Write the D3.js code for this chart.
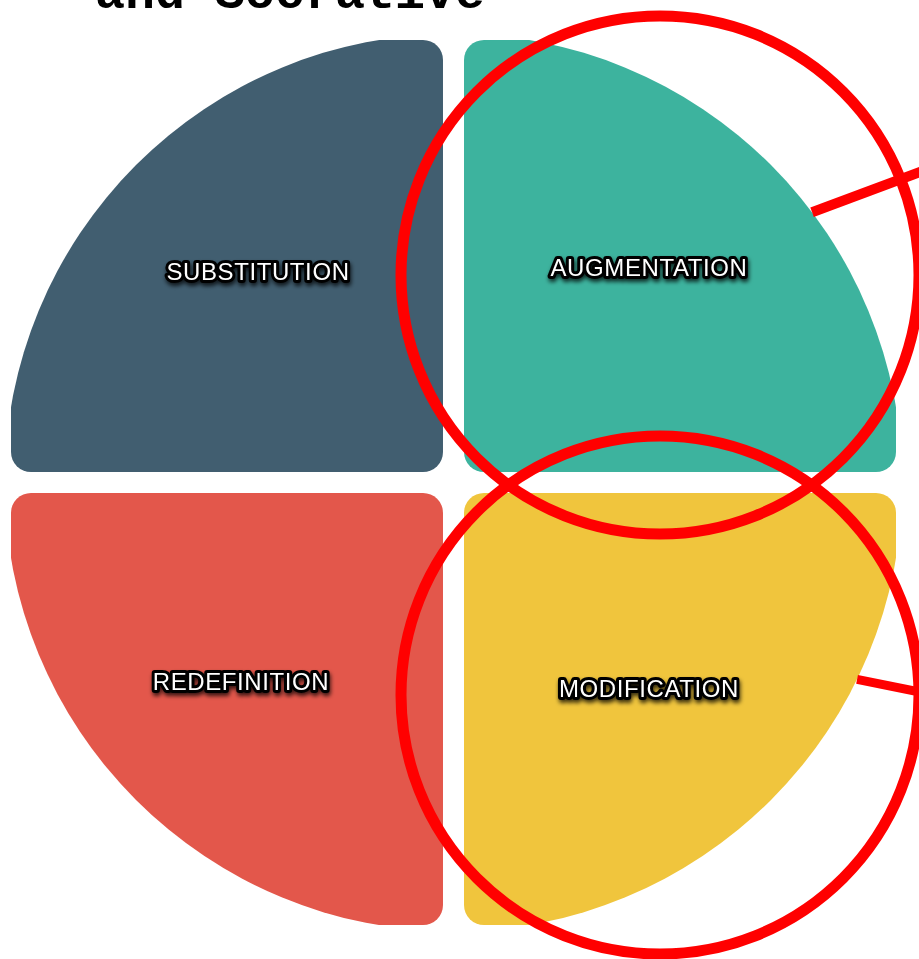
<!DOCTYPE html>
<html>
<head>
<meta charset="utf-8">
<script src="https://cdn.jsdelivr.net/npm/d3@7"></script>
<style>
  html, body { margin: 0; padding: 0; background: #fff; overflow: hidden; }
</style>
</head>
<body>
<script>
// chart size
var w = 919, h = 959;

// the four quadrants of the model
var categories = ["SUBSTITUTION", "AUGMENTATION", "REDEFINITION", "MODIFICATION"];
var columns = ["left", "right", "left", "right"];
var rows = ["top", "top", "bottom", "bottom"];
var colors = ["#415E70", "#3DB39E", "#E3574B", "#F0C53D"];

// red highlight circles and the pointer strokes leading off to the right
var highlighted = ["AUGMENTATION", "MODIFICATION"];
var pointerStartAngles = [-37, 26];   // degrees, where the stroke leaves the big arc
var pointerDirections = [-20.5, 11.5]; // degrees, direction of the stroke

var titleText = "and Socrative";

// small nudges of each label away from its square's centre (layout only)
var labelNudgeX = [31, -31, 14, -31];
var labelNudgeY = [16, 12, -28, -21];

var svg = d3.select("body").append("svg")
    .attr("width", w)
    .attr("height", h);

// 2x2 grid of rounded squares
var x = d3.scaleBand().domain(["left", "right"]).range([11, 896]).paddingInner(0.0464);
var y = d3.scaleBand().domain(["top", "bottom"]).range([40, 925]).paddingInner(0.0464);
var bw = x.bandwidth();

// centre of the gap between quadrants, and the circle cutting the outer corners
var cx = (x("left") + bw + x("right")) / 2;
var cy = (y("top") + bw + y("bottom")) / 2;
var R = 449;

var defs = svg.append("defs");
defs.append("clipPath").attr("id", "circleClip")
  .append("circle").attr("cx", cx).attr("cy", cy).attr("r", R);

var shadow = defs.append("filter").attr("id", "labelShadow")
    .attr("x", "-20%").attr("y", "-50%").attr("width", "140%").attr("height", "200%");
shadow.append("feDropShadow")
    .attr("dx", 1).attr("dy", 3).attr("stdDeviation", 2)
    .attr("flood-color", "#000").attr("flood-opacity", 0.75);

// cut-off heading at the top
svg.append("text")
    .attr("x", 95)
    .attr("y", 8)
    .style("font-family", "'Liberation Mono', 'DejaVu Sans Mono', monospace")
    .style("font-weight", "bold")
    .style("font-size", "50px")
    .style("fill", "#000")
    .text(titleText);

var quads = svg.append("g").attr("clip-path", "url(#circleClip)");

quads.selectAll("rect")
  .data(categories)
  .join("rect")
    .attr("x", function(d, i){ return x(columns[i]); })
    .attr("y", function(d, i){ return y(rows[i]); })
    .attr("width", bw)
    .attr("height", bw)
    .attr("rx", 20)
    .style("fill", function(d, i){ return colors[i]; });

function labelX(i){ return x(columns[i]) + bw / 2 + labelNudgeX[i]; }
function labelY(i){ return y(rows[i]) + bw / 2 + labelNudgeY[i]; }

svg.selectAll("text.label")
  .data(categories)
  .join("text")
    .attr("class", "label")
    .attr("x", function(d, i){ return labelX(i); })
    .attr("y", function(d, i){ return labelY(i); })
    .attr("text-anchor", "middle")
    .attr("dominant-baseline", "central")
    .attr("filter", "url(#labelShadow)")
    .style("font-family", "'Liberation Sans', Arial, sans-serif")
    .style("font-size", "24px")
    .style("letter-spacing", "0.6px")
    .style("fill", "#fff")
    .style("stroke", "#000")
    .style("stroke-width", 6)
    .style("stroke-linejoin", "round")
    .style("paint-order", "stroke")
    .text(function(d){ return d; });

// red annotation marks
var rad = Math.PI / 180;
var marks = svg.append("g");

marks.selectAll("line")
  .data(highlighted)
  .join("line")
    .attr("x1", function(d, i){ return cx + R * Math.cos(pointerStartAngles[i] * rad); })
    .attr("y1", function(d, i){ return cy + R * Math.sin(pointerStartAngles[i] * rad); })
    .attr("x2", function(d, i){ return cx + R * Math.cos(pointerStartAngles[i] * rad) + 300 * Math.cos(pointerDirections[i] * rad); })
    .attr("y2", function(d, i){ return cy + R * Math.sin(pointerStartAngles[i] * rad) + 300 * Math.sin(pointerDirections[i] * rad); })
    .style("stroke", "#FF0000")
    .style("stroke-width", function(d, i){ return i === 0 ? 10 : 9; });

marks.selectAll("circle")
  .data(highlighted)
  .join("circle")
    .attr("cx", 660)
    .attr("cy", function(d){ return y(rows[categories.indexOf(d)]) + bw / 2 + (rows[categories.indexOf(d)] === "top" ? 19 : -14); })
    .attr("r", 259)
    .style("fill", "none")
    .style("stroke", "#FF0000")
    .style("stroke-width", 11);
</script>
</body>
</html>
